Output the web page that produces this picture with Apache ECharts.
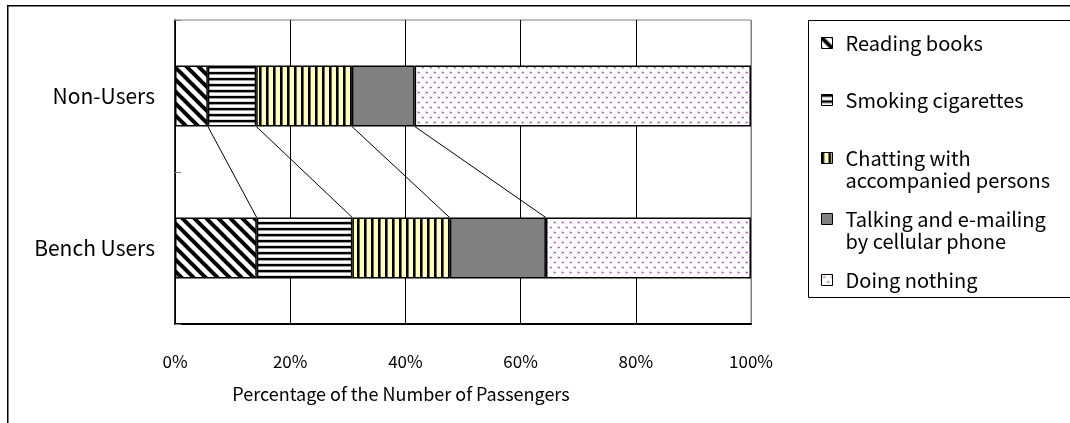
<!DOCTYPE html>
<html>
<head>
<meta charset="utf-8">
<script src="https://cdn.jsdelivr.net/npm/echarts@6/dist/echarts.min.js"></script>
<style>
  html, body { margin: 0; padding: 0; background: #fff; }
  #chart { width: 1070px; height: 423px; }
</style>
</head>
<body>
<div id="chart"></div>
<script>
// Passenger activities while waiting (share of passengers, %)
const categories = ['Bench Users', 'Non-Users'];
const activities = [
  'Reading books',
  'Smoking cigarettes',
  'Chatting with accompanied persons',
  'Talking and e-mailing by cellular phone',
  'Doing nothing'
];
// values per activity: [Bench Users, Non-Users]
const readingBooks = [14.2, 5.7];
const smokingCigarettes = [16.6, 8.4];
const chattingWithPersons = [16.9, 16.6];
const talkingByPhone = [16.7, 10.9];
const doingNothing = [35.6, 58.4];
const xTicks = [0, 20, 40, 60, 80, 100];

const seriesValues = [readingBooks, smokingCigarettes, chattingWithPersons, talkingByPhone, doingNothing];
const legendLines = {
  'Chatting with accompanied persons': 'Chatting with\naccompanied persons',
  'Talking and e-mailing by cellular phone': 'Talking and e-mailing\nby cellular phone'
};

const FONT = '"Noto Sans CJK JP", "Noto Sans", sans-serif';

function tile(w, h, draw) {
  const c = document.createElement('canvas');
  c.width = w; c.height = h;
  const ctx = c.getContext('2d');
  draw(ctx, w, h);
  return { image: c, repeat: 'repeat' };
}

// hatch fills for each activity
const fills = [
  tile(12, 12, (ctx, w, h) => {
    ctx.fillStyle = '#fff'; ctx.fillRect(0, 0, w, h);
    ctx.strokeStyle = '#000'; ctx.lineWidth = 4;
    for (const o of [-12, 0, 12]) {
      ctx.beginPath(); ctx.moveTo(o - 2, -2); ctx.lineTo(o + 14, 14); ctx.stroke();
    }
  }),
  tile(6, 6, (ctx, w, h) => {
    ctx.fillStyle = '#fff'; ctx.fillRect(0, 0, w, h);
    ctx.fillStyle = '#000'; ctx.fillRect(0, 0, w, 2);
    ctx.fillStyle = '#9a9a9a'; ctx.fillRect(0, 2, w, 1);
    ctx.fillStyle = '#d8d8d8'; ctx.fillRect(0, 5, w, 1);
  }),
  tile(7, 7, (ctx, w, h) => {
    ctx.fillStyle = '#ffffc0'; ctx.fillRect(0, 0, w, h);
    ctx.fillStyle = '#000'; ctx.fillRect(0, 0, 2, h);
    ctx.fillStyle = '#6a6a50'; ctx.fillRect(2, 0, 1, h);
  }),
  '#808080',
  tile(8, 10, (ctx, w, h) => {
    ctx.fillStyle = '#fff'; ctx.fillRect(0, 0, w, h);
    ctx.fillStyle = '#ecdcef';
    ctx.fillRect(1, 1, 3, 3); ctx.fillRect(5, 6, 3, 3);
    ctx.fillStyle = '#9a42a8';
    ctx.fillRect(2, 2, 1, 1); ctx.fillRect(6, 7, 1, 1);
    ctx.fillStyle = '#b57dc0';
    ctx.fillRect(3, 2, 1, 1); ctx.fillRect(7, 7, 1, 1);
  })
];

// cumulative boundaries between stacked segments, per category
function cumulative(catIdx) {
  const out = [];
  let s = 0;
  for (let i = 0; i < seriesValues.length - 1; i++) {
    s += seriesValues[i][catIdx];
    out.push(s);
  }
  return out;
}
const cumBench = cumulative(0);
const cumNon = cumulative(1);
const connectorData = cumNon.map((v, i) => [v, cumBench[i], 'Non-Users']);

const BAR_RATIO = 0.4;

const barSeries = activities.map((name, i) => ({
  name,
  type: 'bar',
  stack: 'share',
  barWidth: (BAR_RATIO * 100) + '%',
  data: seriesValues[i],
  itemStyle: { color: fills[i], borderColor: '#000', borderWidth: 1.5 },
  emphasis: { disabled: true },
  silent: true
}));

// connector lines between the two stacked bars
const connectorSeries = {
  type: 'custom',
  silent: true,
  encode: { x: [0, 1], y: 2 },
  data: connectorData,
  renderItem(params, api) {
    const band = api.size([0, 1])[1];
    const half = band * BAR_RATIO / 2;
    const p1 = api.coord([api.value(0), 1]);
    const p2 = api.coord([api.value(1), 0]);
    return {
      type: 'line',
      shape: { x1: p1[0], y1: p1[1] + half, x2: p2[0], y2: p2[1] - half },
      style: { stroke: '#000', lineWidth: 1 }
    };
  },
  z: 1
};

// legend: one block per entry; two-line entries keep the swatch beside the first line
const LINE_H = 22;
const SWATCH = 11;
const legendFirstLine = [43, 100, 158, 219, 280];
const legends = activities.map((name, i) => {
  const multi = !!legendLines[name];
  return {
    data: [name],
    orient: 'vertical',
    left: 821,
    top: legendFirstLine[i] - 11,
    padding: 0,
    icon: multi
      ? 'path://M0,0H11V11H0Z M0,33H0.01'
      : 'rect',
    itemWidth: SWATCH,
    itemHeight: multi ? SWATCH + 2 * LINE_H : SWATCH,
    selectedMode: false,
    formatter: n => legendLines[n] || n,
    textStyle: {
      fontFamily: FONT, fontSize: 20, color: '#000', lineHeight: LINE_H,
      padding: [0, 0, 0, 8]
    },
    itemStyle: { borderColor: '#000', borderWidth: 1 }
  };
});

const chart = echarts.init(document.getElementById('chart'), null, { renderer: 'canvas' });
chart.setOption({
  animation: false,
  backgroundColor: '#fff',
  textStyle: { fontFamily: FONT },
  graphic: [
    { type: 'rect', left: 7, top: 5, z: -10,
      shape: { x: 0, y: 0, width: 1100, height: 500 },
      style: { fill: '#fff', stroke: '#000', lineWidth: 1.5 } },
    { type: 'rect', left: 808, top: 20, z: -5,
      shape: { x: 0, y: 0, width: 300, height: 277 },
      style: { fill: '#fff', stroke: '#000', lineWidth: 1 } }
  ],
  grid: { left: 175, right: 319, top: 20, bottom: 99, show: true, borderColor: '#808080', borderWidth: 1 },
  legend: legends,
  xAxis: {
    type: 'value',
    min: xTicks[0],
    max: xTicks[xTicks.length - 1],
    interval: xTicks[1] - xTicks[0],
    name: 'Percentage of the Number of Passengers',
    nameLocation: 'middle',
    nameGap: 61,
    // title is centred under the whole chart body rather than the plot
    nameTextStyle: { fontSize: 18, color: '#000', fontFamily: FONT, padding: [0, 124, 0, 0] },
    axisLine: { show: true, lineStyle: { color: '#000', width: 2 } },
    axisTick: { show: false },
    axisLabel: { formatter: '{value}%', fontSize: 17, color: '#000', margin: 29, fontFamily: FONT },
    splitLine: { show: true, lineStyle: { color: ['#000', '#000', '#000', '#000', '#000', '#808080'], width: 1 } }
  },
  yAxis: {
    type: 'category',
    data: categories,
    axisLine: { show: true, lineStyle: { color: '#000', width: 1.5 } },
    axisTick: { show: true, inside: true, length: 6, lineStyle: { color: '#808080' } },
    axisLabel: { fontSize: 21, color: '#000', margin: 20, fontFamily: FONT },
    splitLine: { show: false }
  },
  series: [...barSeries, connectorSeries]
});
</script>
</body>
</html>
